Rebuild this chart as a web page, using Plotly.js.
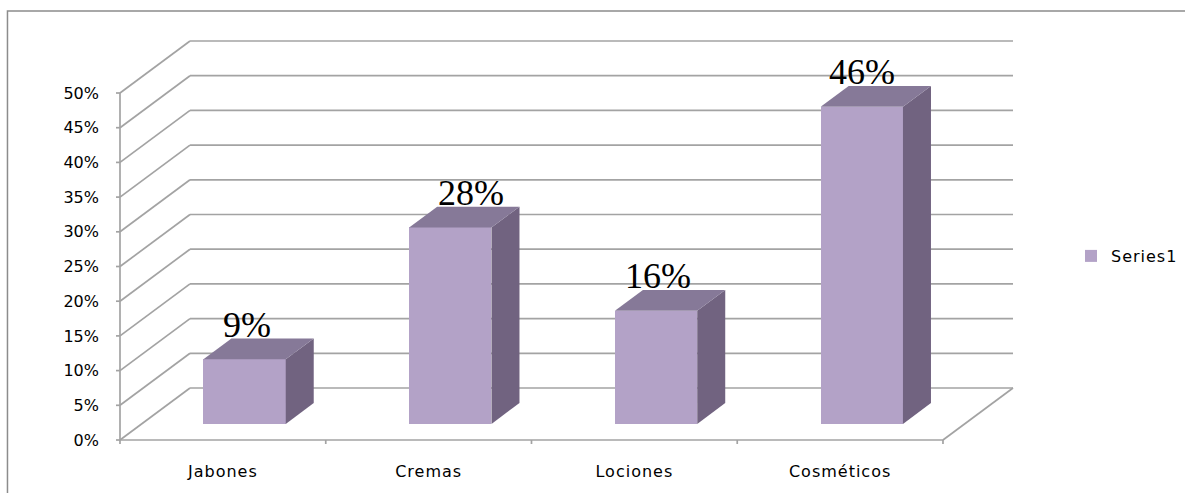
<!DOCTYPE html>
<html>
<head>
<meta charset="utf-8">
<script src="https://cdn.plot.ly/plotly-3.0.1.min.js"></script>
<style>
  html, body { margin: 0; padding: 0; background: #fff; }
  .xtick text, .legendtext { letter-spacing: 1px; }
</style>
</head>
<body>
<div id="chart" style="width:1185px;height:493px;"></div>
<script>
// ---- data ----
const categories = ['Jabones', 'Cremas', 'Lociones', 'Cosméticos'];
const values = [0.093, 0.283, 0.163, 0.457];
const seriesName = 'Series1';
const yTickVals = [0, 0.05, 0.10, 0.15, 0.20, 0.25, 0.30, 0.35, 0.40, 0.45, 0.50];
const labelXShift = [2, 21, 2, 0];

// ---- 3D geometry (styling) ----
const PX_CAT = 205.7, PX_UNIT = 694;       // pixel scale
const DX = 70 / PX_CAT, DY = 52 / PX_UNIT;  // wall depth in data units
const F0 = 0.31, F1 = 0.71, W = 0.4;        // bar depth placement and width
const PAD = 4;
const FRONT = '#b3a2c7', TOP = '#867998', SIDE = '#716380';
const GRID = '#a3a3a3';

const n = categories.length;
const xIdx = categories.map((c, i) => i);
const yMax = yTickVals[yTickVals.length - 1];
const xLo = -0.5, xHi = n - 0.5;

const traces = [];
// front faces
traces.push({
  type: 'bar', name: seriesName,
  x: xIdx.map(i => i + F0 * DX), y: values, base: values.map(() => F0 * DY),
  width: W, marker: { color: FRONT, line: { width: 0 } },
  hoverinfo: 'skip', showlegend: true
});
// side and top faces
values.forEach((v, i) => {
  const xr0 = i + F0 * DX + W / 2, xr1 = i + F1 * DX + W / 2;
  const xl0 = i + F0 * DX - W / 2, xl1 = i + F1 * DX - W / 2;
  const yb0 = F0 * DY, yb1 = F1 * DY, yt0 = F0 * DY + v, yt1 = F1 * DY + v;
  traces.push({
    type: 'scatter', mode: 'lines', fill: 'toself', fillcolor: SIDE,
    x: [xr0, xr1, xr1, xr0, xr0], y: [yb0, yb1, yt1, yt0, yb0],
    line: { width: 0, color: SIDE }, showlegend: false, hoverinfo: 'skip'
  });
  traces.push({
    type: 'scatter', mode: 'lines', fill: 'toself', fillcolor: TOP,
    x: [xl0, xr0, xr1, xl1, xl0], y: [yt0, yt0, yt1, yt1, yt0],
    line: { width: 0, color: TOP }, showlegend: false, hoverinfo: 'skip'
  });
});

// walls, floor, axis lines
const shapes = [];
const ln = (x0, y0, x1, y1, extra) => Object.assign({
  type: 'line', xref: 'x', yref: 'y', x0, y0, x1, y1, layer: 'below',
  line: { color: GRID, width: 1.7 }
}, extra || {});
yTickVals.forEach(v => {
  shapes.push(ln(xLo, v, xLo + DX, v + DY));
  shapes.push(ln(xLo + DX, v + DY, xHi + DX, v + DY));
  // y tick marks
  shapes.push({ type: 'line', xref: 'x', yref: 'y', xsizemode: 'pixel', xanchor: xLo,
    x0: -6, x1: 0, y0: v, y1: v, line: { color: GRID, width: 1.7 } });
});
shapes.push(ln(xLo, 0, xHi, 0));
shapes.push(ln(xHi, 0, xHi + DX, DY));
shapes.push(ln(xLo, 0, xLo, yMax));
for (let b = 0; b <= n; b++) {
  shapes.push({ type: 'line', xref: 'x', yref: 'y', ysizemode: 'pixel', yanchor: 0,
    x0: xLo + b, x1: xLo + b, y0: 0, y1: -6, line: { color: GRID, width: 1.7 } });
}
// outer chart border (left and top edges visible)
const plotL = 120 - PAD;
const xr = [xLo - PAD / PX_CAT, xHi + DX + PAD / PX_CAT];
const yr = [-PAD / PX_UNIT, yMax + DY + PAD / PX_UNIT];
const plotW = (xr[1] - xr[0]) * PX_CAT;
const plotH = (yr[1] - yr[0]) * PX_UNIT;
const plotT = 440 - (yMax + DY) * PX_UNIT - PAD;
const plotB = 493 - plotT - plotH;
const toPaperX = px => (px - plotL) / plotW;
const toPaperY = py => (plotT + plotH - py) / plotH;
shapes.push({ type: 'path', xref: 'paper', yref: 'paper',
  path: 'M ' + toPaperX(7.5) + ',' + toPaperY(493) + ' L ' + toPaperX(7.5) + ',' + toPaperY(11) +
        ' L ' + toPaperX(1185) + ',' + toPaperY(11),
  line: { color: '#8c8c8c', width: 1.5 }, layer: 'below' });

// data labels
const annotations = values.map((v, i) => ({
  x: i + F0 * DX, y: v + F1 * DY, xref: 'x', yref: 'y',
  text: Math.round(v * 100) + '%', showarrow: false,
  xanchor: 'center', yanchor: 'bottom', xshift: labelXShift[i], yshift: -8.5,
  font: { family: 'Liberation Serif', size: 36, color: '#000' }
}));

const layout = {
  width: 1185, height: 493, autosize: false,
  margin: { l: plotL, r: 1185 - plotL - plotW, t: plotT, b: plotB, pad: 0 },
  paper_bgcolor: '#fff', plot_bgcolor: 'rgba(0,0,0,0)',
  font: { family: 'DejaVu Sans', size: 16, color: '#000' },
  xaxis: { range: xr, type: 'linear', tickvals: xIdx, ticktext: categories,
    ticks: '', showgrid: false, zeroline: false, showline: false,
    ticklabelstandoff: 16, tickfont: { family: 'DejaVu Sans', size: 16, color: '#000' } },
  yaxis: { range: yr, tickvals: yTickVals, tickformat: '.0%',
    ticks: '', showgrid: false, zeroline: false, showline: false,
    ticklabelstandoff: 16, tickfont: { family: 'DejaVu Sans', size: 16, color: '#000' } },
  showlegend: true,
  legend: { xref: 'container', yref: 'container', x: 1071 / 1185, y: 1 - 256 / 493,
    xanchor: 'left', yanchor: 'middle', bgcolor: 'rgba(0,0,0,0)',
    font: { family: 'DejaVu Sans', size: 16, color: '#000' }, itemwidth: 30 },
  shapes, annotations, bargap: 0
};

Plotly.newPlot('chart', traces, layout, { staticPlot: true, displayModeBar: false });
</script>
</body>
</html>
